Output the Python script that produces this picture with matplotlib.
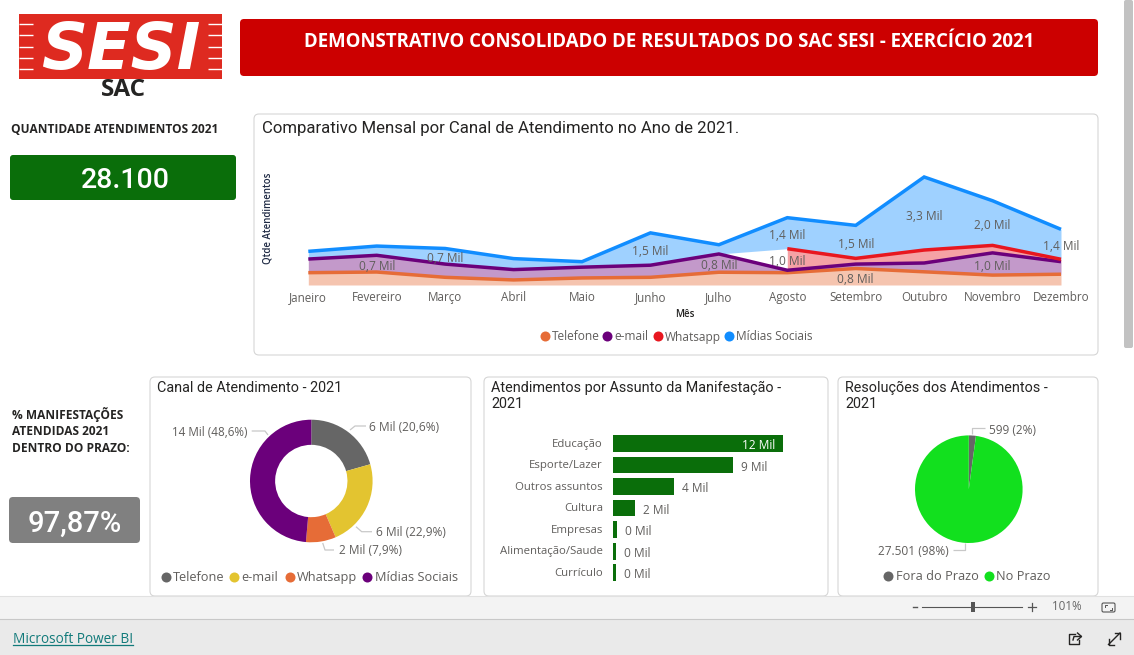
import numpy as np
import matplotlib
matplotlib.use("Agg")
import matplotlib.pyplot as plt
from matplotlib.patches import FancyBboxPatch, Rectangle

W, H = 1134, 655
DIN = "Roboto"
SEGOE = "Open Sans"
GREY_TXT = "#605E5C"

# monthly chart, values in thousands (stacked)
months = ["Janeiro", "Fevereiro", "Março", "Abril", "Maio", "Junho", "Julho",
          "Agosto", "Setembro", "Outubro", "Novembro", "Dezembro"]
telefone = [0.56, 0.59, 0.35, 0.23, 0.32, 0.35, 0.58, 0.56, 0.75, 0.60, 0.45, 0.49]
email = [0.62, 0.76, 0.60, 0.47, 0.49, 0.55, 0.83, 0.11, 0.20, 0.40, 1.01, 0.57]
whatsapp = [0, 0, 0, 0, 0, 0, 0, 0.98, 0.26, 0.59, 0.34, 0.11]
midias = [0.35, 0.42, 0.71, 0.50, 0.25, 1.47, 0.42, 1.41, 1.50, 3.32, 2.03, 1.36]
channel_names = ["Telefone", "e-mail", "Whatsapp", "Mídias Sociais"]
channel_colors = ["#E66C37", "#6B007B", "#E8171F", "#118DFF"]
label_series = [0, 1, 1, 1, 2, 3, 3, 3, 3, 3, 3, 3]
label_months = [8, 1, 6, 10, 7, 2, 5, 7, 8, 9, 10, 11]
label_texts = ["0,8 Mil", "0,7 Mil", "0,8 Mil", "1,0 Mil", "1,0 Mil", "0,7 Mil",
               "1,5 Mil", "1,4 Mil", "1,5 Mil", "3,3 Mil", "2,0 Mil", "1,4 Mil"]

# donut
donut_values = [20.6, 22.9, 7.9, 48.6]
donut_colors = ["#666666", "#E3C430", "#E66C37", "#6B007B"]

# bars
subjects = ["Educação", "Esporte/Lazer", "Outros assuntos", "Cultura", "Empresas",
            "Alimentação/Saude", "Currículo"]
subject_values = [12.4, 8.76, 4.47, 1.58, 0.31, 0.22, 0.20]
subject_labels = ["12 Mil", "9 Mil", "4 Mil", "2 Mil", "0 Mil", "0 Mil", "0 Mil"]

# pie
pie_values = [599, 27501]
pie_names = ["Fora do Prazo", "No Prazo"]
pie_colors = ["#666666", "#12E01E"]

fig = plt.figure(figsize=(W / 100, H / 100), dpi=100, facecolor="white")
bg = fig.add_axes([0, 0, 1, 1])
bg.set_xlim(0, W)
bg.set_ylim(H, 0)
bg.axis("off")


def ax_at(x0, y0, x1, y1):
    a = fig.add_axes([x0 / W, 1 - y1 / H, (x1 - x0) / W, (y1 - y0) / H])
    a.patch.set_alpha(0)
    return a


def box(x0, y0, x1, y1, fc="white", ec="none", lw=1.0, r=4):
    bg.add_patch(FancyBboxPatch((x0, y0), x1 - x0, y1 - y0,
                                boxstyle=f"round,pad=0,rounding_size={r}",
                                fc=fc, ec=ec, lw=lw))


def txt(x, y, s, size=8.5, color=GREY_TXT, family=SEGOE, ha="left", weight="normal", **kw):
    # center anchoring sits a bit high for these fonts
    return bg.text(x, y + 1.5, s, fontsize=size, color=color, family=family, ha=ha,
                   va="center", weight=weight, **kw)


def leader(xs, ys):
    bg.plot(xs, ys, color="#C8C8C8", lw=0.9, solid_capstyle="butt")


def legend_row(y, names, colors, dot_x, text_x, size=8.6):
    for n, c, dx, tx in zip(names, colors, dot_x, text_x):
        bg.scatter([dx], [y], s=52, color=c, linewidths=0)
        txt(tx, y - 0.5, n, size=size)


# header
bg.add_patch(Rectangle((19, 14), 203, 65, fc="#DE2A20", ec="none"))
for sy in [24, 35, 46.5, 57.5, 69]:
    bg.plot([19, 33], [sy, sy], color="white", lw=1.0, solid_capstyle="butt")
    bg.plot([208, 222], [sy, sy], color="white", lw=1.0, solid_capstyle="butt")
txt(120.5, 50, "SESI", size=46, color="white", family="DejaVu Sans", ha="center",
    weight="bold", style="italic")
txt(123, 88, "SAC", size=17.5, color="#252423", ha="center", weight="bold")
box(240, 19, 1098, 76, fc="#CC0000", r=4)
txt(669, 40.5, "DEMONSTRATIVO CONSOLIDADO DE RESULTADOS DO SAC SESI - EXERCÍCIO 2021",
    size=13.4, color="white", ha="center", weight="bold")

# left KPIs
txt(11, 128, "QUANTIDADE ATENDIMENTOS 2021", size=8.6, color="#252423", weight="bold")
box(10, 155, 236, 200, fc="#0A6E0A", r=3)
txt(125, 179, "28.100", size=20.5, color="white", family=DIN, ha="center", weight="medium")
for ty, s in zip([413, 430, 447], ["% MANIFESTAÇÕES", "ATENDIDAS 2021", "DENTRO DO PRAZO:"]):
    txt(12, ty, s, size=8.6, color="#252423", weight="bold")
box(9, 497, 140, 543, fc="#808080", r=4)
txt(75, 522, "97,87%", size=21, color="white", family=DIN, ha="center", weight="medium")

# panels
for x0, y0, x1, y1 in [(254, 114, 1098, 355), (150, 377, 471, 596),
                       (484, 377, 828, 596), (838, 377, 1098, 596)]:
    box(x0, y0, x1, y1, ec="#D6D6D6", lw=0.8, r=5)
txt(262, 127, "Comparativo Mensal por Canal de Atendimento no Ano de 2021.",
    size=12.1, color="#252423", family=DIN)
txt(157, 386, "Canal de Atendimento - 2021", size=10.4, color="#252423", family=DIN)
txt(491, 386, "Atendimentos por Assunto da Manifestação -", size=10.4, color="#252423", family=DIN)
txt(491, 402, "2021", size=10.4, color="#252423", family=DIN)
txt(845, 386, "Resoluções dos Atendimentos -", size=10.4, color="#252423", family=DIN)
txt(845, 402, "2021", size=10.4, color="#252423", family=DIN)

# monthly stacked area
ax = ax_at(308.3, 165, 1061, 285)
ax.set_xlim(0, 11)
ax.set_ylim(0, 120 / 22)
ax.axis("off")
xs = np.arange(12)
stack = np.cumsum(np.array([telefone, email, whatsapp, midias]), axis=0)
bottoms = np.vstack([np.zeros(12), stack[:-1]])
for k, c in enumerate(channel_colors):
    mask = np.array(whatsapp) > 0 if k == 2 else np.ones(12, bool)
    ax.fill_between(xs[mask], bottoms[k][mask], stack[k][mask], color=c, alpha=0.4,
                    linewidth=0, clip_on=False)
for k, c in enumerate(channel_colors):
    mask = np.array(whatsapp) > 0 if k == 2 else np.ones(12, bool)
    ax.plot(xs[mask], stack[k][mask], color=c, lw=2.5, clip_on=False,
            solid_capstyle="butt", solid_joinstyle="miter")
for s, m, t in zip(label_series, label_months, label_texts):
    mid = (bottoms[s][m] + stack[s][m]) / 2
    ax.annotate(t, (m, mid), xytext=(0, -1.8), textcoords="offset points", ha="center",
                va="center", fontsize=8.6, color=GREY_TXT, family=SEGOE, annotation_clip=False)
for i, m in enumerate(months):
    ax.annotate(m, (i, 0), xytext=(0, -9.2), textcoords="offset points", ha="center",
                va="center", fontsize=8.4, color=GREY_TXT, family=SEGOE, annotation_clip=False)
txt(268, 217, "Qtde Atendimentos", size=6.9, color="#1F2A44", ha="center", rotation=90,
    weight="semibold")
txt(685, 313, "Mês", size=7.0, color="#252423", ha="center", weight="semibold")
legend_row(336, channel_names, channel_colors, [545, 606.7, 658, 728.7], [552, 614, 665, 736])

# donut
dn = ax_at(311.3 - 61.3, 481 - 61.3, 311.3 + 61.3, 481 + 61.3)
dn.pie(donut_values, colors=donut_colors, startangle=90, counterclock=False, radius=1,
       wedgeprops=dict(width=0.41, linewidth=0))
dn.set_xlim(-1, 1)
dn.set_ylim(-1, 1)
leader([350, 355, 366], [430, 426, 426])
txt(369, 425.7, "6 Mil (20,6%)", size=8.6)
leader([356, 361.7, 372], [526.7, 531.7, 531.7])
txt(376, 530.7, "6 Mil (22,9%)", size=8.6)
leader([322.7, 325, 334], [543, 550, 550])
txt(339, 549, "2 Mil (7,9%)", size=8.6)
leader([251.7, 265, 268], [431, 431, 435])
txt(247.3, 430.7, "14 Mil (48,6%)", size=8.4, ha="right")
legend_row(576.5, channel_names, donut_colors, [166, 234, 290, 367], [173, 241, 297, 375], size=9.2)

# subject bars
br = ax_at(613, 432.6, 783, 583.5)
br.barh(np.arange(7), subject_values, height=0.775, color="#0A6E0A")
br.set_xlim(0, subject_values[0])
br.set_ylim(6.5, -0.5)
br.axis("off")
for i, (name, v, lab) in enumerate(zip(subjects, subject_values, subject_labels)):
    br.annotate(name, (0, i), xytext=(-7.2, -0.6), textcoords="offset points", ha="right",
                va="center", fontsize=8.2, color=GREY_TXT, family=SEGOE, annotation_clip=False)
    if i == 0:
        br.annotate(lab, (v, i), xytext=(-5.8, -1.6), textcoords="offset points", ha="right",
                    va="center", fontsize=8.6, color="white", family=SEGOE)
    else:
        br.annotate(lab, (v, i), xytext=(5.8, -1.6), textcoords="offset points", ha="left",
                    va="center", fontsize=8.6, color=GREY_TXT, family=SEGOE, annotation_clip=False)

# pie
pi = ax_at(968.8 - 53.8, 489.2 - 53.8, 968.8 + 53.8, 489.2 + 53.8)
pi.pie(pie_values, colors=pie_colors, startangle=90, counterclock=False, radius=1,
       wedgeprops=dict(linewidth=0))
pi.set_xlim(-1, 1)
pi.set_ylim(-1, 1)
leader([972.3, 972.3, 985.3], [434, 428.3, 428.3])
txt(989.3, 429, "599 (2%)", size=8.6)
leader([953.3, 965, 965], [549.7, 549.7, 543.3])
txt(948.3, 550, "27.501 (98%)", size=8.6, ha="right")
legend_row(575.7, pie_names, pie_colors, [888, 989], [896, 996], size=9.2)

# browser chrome
bg.add_patch(FancyBboxPatch((1124, 0), 9, 348, boxstyle="round,pad=0,rounding_size=2",
                            fc="#C2C2C2", ec="none"))
bg.add_patch(Rectangle((0, 596), W, 23, fc="#F3F3F3", ec="none", zorder=3))
bg.add_patch(Rectangle((0, 619), W, 36, fc="#EAEAEA", ec="none", zorder=3))
bg.plot([0, W], [595.5, 595.5], color="#E1E1E1", lw=0.8, zorder=4)
bg.plot([0, W], [618.5, 618.5], color="#C8C8C8", lw=0.8, zorder=4)
bg.plot([922, 1022], [607, 607], color="#555555", lw=0.8, zorder=4)
bg.add_patch(Rectangle((971, 602), 4, 10, fc="#555555", ec="none", zorder=4))
bg.plot([913, 917], [607, 607], color="#555555", lw=1.0, zorder=4)
bg.plot([1028, 1036], [607, 607], color="#555555", lw=0.9, zorder=4)
bg.plot([1032, 1032], [603, 611], color="#555555", lw=0.9, zorder=4)
txt(1067, 605.5, "101%", size=8.4, color="#666666", ha="center", zorder=4)
bg.add_patch(FancyBboxPatch((1102, 603), 13, 9, boxstyle="round,pad=0,rounding_size=1.5",
                            fc="none", ec="#555555", lw=0.8, zorder=4))
bg.plot([1105, 1105, 1107], [607, 605, 605], color="#555555", lw=0.7, zorder=4)
bg.plot([1112, 1112, 1110], [608, 610, 610], color="#555555", lw=0.7, zorder=4)
txt(13, 638, "Microsoft Power BI", size=9.85, color="#117A7A", zorder=4)
bg.plot([13, 133], [645, 645], color="#117A7A", lw=0.9, zorder=4)

# share icon
bg.plot([1075, 1069, 1069, 1079, 1079], [634, 634, 644, 644, 640], color="#252423", lw=1.0, zorder=4)
bg.plot([1073, 1074, 1081], [640, 636.5, 636.5], color="#252423", lw=1.0, zorder=4)
bg.plot([1077.5, 1081.5, 1077.5], [633, 636.5, 640], color="#252423", lw=1.0, zorder=4)
# expand icon
bg.plot([1108.5, 1120], [644.5, 633], color="#252423", lw=1.0, zorder=4)
bg.plot([1114.5, 1120, 1120], [633, 633, 638.5], color="#252423", lw=1.0, zorder=4)
bg.plot([1108.5, 1108.5, 1114], [639, 644.5, 644.5], color="#252423", lw=1.0, zorder=4)

fig.savefig("out.png", dpi=100)
